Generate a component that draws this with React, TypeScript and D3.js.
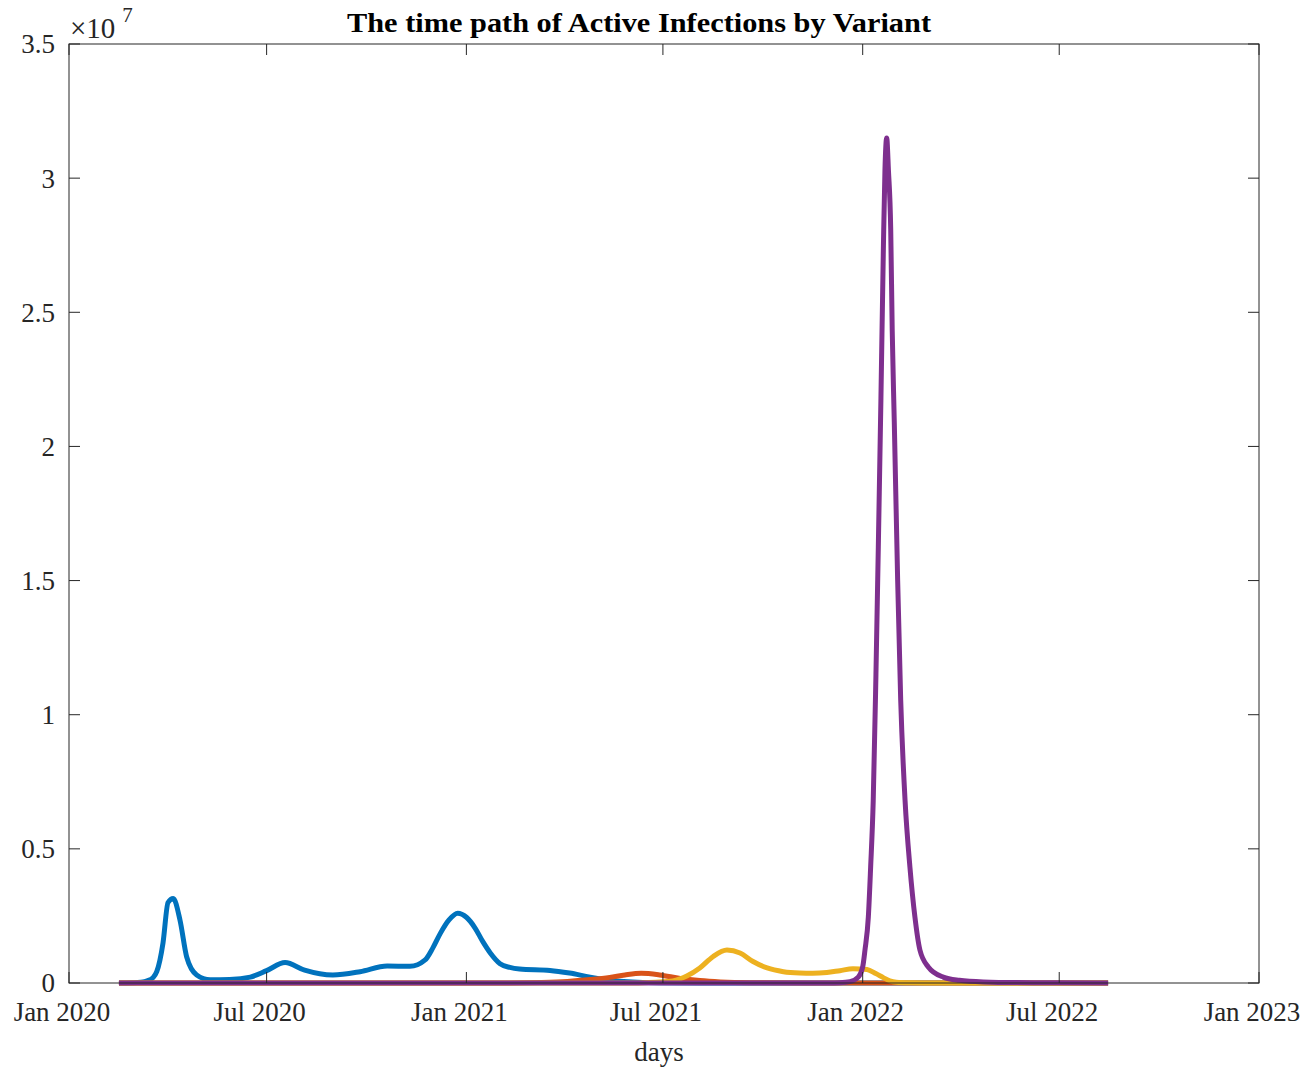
import React, { useEffect, useRef } from "react";
import * as d3 from "d3";

// days are counted from 1 Jan 2020, values are in millions
const variantNames = ["Original", "Alpha", "Delta", "Omicron"];
const variantColors = ["#0072BD", "#D95319", "#EDB120", "#7E2F8E"];

const originalDays = [46, 58, 66, 72, 77.4, 80.8, 86.6, 91.2, 96, 102.2, 108.4, 117.6, 130, 148, 167, 182, 199, 217, 243, 268, 293, 314, 328, 335, 342, 350, 358, 366, 374, 381, 388, 397, 406, 415, 443, 461, 480, 507, 544, 581, 957];
const originalVals = [0, 0.01, 0.03, 0.08, 0.2, 0.42, 1.5, 3.0, 3.15, 2.35, 0.97, 0.3, 0.12, 0.13, 0.22, 0.46, 0.76, 0.48, 0.3, 0.42, 0.63, 0.62, 0.86, 1.3, 1.85, 2.35, 2.6, 2.45, 2.05, 1.55, 1.12, 0.72, 0.58, 0.52, 0.47, 0.37, 0.22, 0.07, 0.01, 0, 0];

const alphaDays = [46, 400, 434, 459, 480, 498, 512, 527, 544, 563, 581, 600, 627, 680, 957];
const alphaVals = [0, 0, 0.02, 0.06, 0.13, 0.21, 0.3, 0.36, 0.3, 0.17, 0.09, 0.04, 0.01, 0, 0];

const deltaDays = [46, 520, 540, 556, 569, 581, 593, 606, 618, 630, 643, 658, 673, 685, 698, 710, 722, 735, 743, 750, 756, 762, 775, 800, 957];
const deltaVals = [0, 0, 0.03, 0.08, 0.26, 0.56, 0.98, 1.23, 1.12, 0.8, 0.56, 0.42, 0.37, 0.36, 0.39, 0.46, 0.53, 0.5, 0.35, 0.2, 0.08, 0.03, 0.01, 0, 0];

const omicronDays = [46, 700, 710, 719.3, 726.9, 731, 733.1, 736.2, 738.3, 740.7, 743.2, 745.5, 747.8, 750.1, 751.5, 753.1, 754.7, 756.8, 758.2, 760.1, 763.2, 766, 770, 774.5, 779.1, 783.7, 791.4, 805.2, 820, 842, 888, 957];
const omicronVals = [0, 0, 0.01, 0.05, 0.22, 0.6, 1.23, 2.46, 4.3, 6.8, 11.5, 16.5, 21.8, 27.5, 30.3, 31.5, 30.3, 28.1, 24.3, 20.9, 15.0, 10.55, 6.82, 4.32, 2.46, 1.23, 0.6, 0.22, 0.1, 0.04, 0.01, 0];

const seriesDays = [originalDays, alphaDays, deltaDays, omicronDays];
const seriesVals = [originalVals, alphaVals, deltaVals, omicronVals];

const xTickDates = ["2020-01-01", "2020-07-01", "2021-01-01", "2021-07-01", "2022-01-01", "2022-07-01", "2023-01-01"];
const yTicks = [0, 0.5, 1, 1.5, 2, 2.5, 3, 3.5];

const serif = "'Liberation Serif', 'Times New Roman', serif";

const Chart = () => {
  const ref = useRef<SVGSVGElement>(null);

  useEffect(() => {
    const svg = d3.select(ref.current);
    svg.selectAll("*").remove();

    const W = 1304;
    const H = 1068;
    const margin = { top: 44, right: 45, bottom: 85, left: 69 };
    const width = W - margin.left - margin.right;
    const height = H - margin.top - margin.bottom;

    const start = new Date(Date.UTC(2020, 0, 1));
    const x = d3
      .scaleUtc()
      .domain([start, new Date(Date.UTC(2023, 0, 1))])
      .range([0, width]);
    // y in units of 1e7
    const y = d3.scaleLinear().domain([0, 3.5]).range([height, 0]);

    const g = svg
      .append("g")
      .attr("transform", `translate(${margin.left}, ${margin.top})`);

    const line = d3
      .line<[number, number]>()
      .x((d) => x(start.getTime() + d[0] * 86400000))
      .y((d) => y(d[1] / 10))
      .curve(d3.curveMonotoneX);

    seriesDays.forEach((days, i) => {
      const pts = days.map((d, j) => [d, seriesVals[i][j]] as [number, number]);
      g.append("path")
        .datum(pts)
        .attr("class", variantNames[i])
        .attr("fill", "none")
        .attr("stroke", variantColors[i])
        .attr("stroke-width", 5)
        .attr("stroke-linejoin", "round")
        .attr("d", line);
    });

    const axisColor = "#262626";
    const tickDates = xTickDates.map((s) => new Date(s + "T00:00:00Z"));
    const fmt = d3.utcFormat("%b %Y");

    // box
    g.append("rect")
      .attr("x", 0)
      .attr("y", 0)
      .attr("width", width)
      .attr("height", height)
      .attr("fill", "none")
      .attr("stroke", axisColor)
      .attr("stroke-width", 1);

    // x ticks (inward, bottom and top)
    tickDates.forEach((d) => {
      const px = x(d);
      g.append("line")
        .attr("x1", px).attr("x2", px)
        .attr("y1", height).attr("y2", height - 11)
        .attr("stroke", axisColor);
      g.append("line")
        .attr("x1", px).attr("x2", px)
        .attr("y1", 0).attr("y2", 11)
        .attr("stroke", axisColor);
      g.append("text")
        .attr("x", px - 7)
        .attr("y", height + 38)
        .attr("text-anchor", "middle")
        .attr("font-family", serif)
        .attr("font-size", 27)
        .attr("fill", axisColor)
        .text(fmt(d));
    });

    // y ticks (inward, left and right)
    yTicks.forEach((v) => {
      const py = y(v);
      g.append("line")
        .attr("x1", 0).attr("x2", 11)
        .attr("y1", py).attr("y2", py)
        .attr("stroke", axisColor);
      g.append("line")
        .attr("x1", width).attr("x2", width - 11)
        .attr("y1", py).attr("y2", py)
        .attr("stroke", axisColor);
      g.append("text")
        .attr("x", -14)
        .attr("y", py)
        .attr("dy", "0.35em")
        .attr("text-anchor", "end")
        .attr("font-family", serif)
        .attr("font-size", 27)
        .attr("fill", axisColor)
        .text(String(v));
    });

    // exponent
    const ex = g.append("text")
      .attr("x", 1)
      .attr("y", -6)
      .attr("font-family", serif)
      .attr("font-size", 29)
      .attr("fill", axisColor);
    ex.append("tspan").text("\u00d710");
    ex.append("tspan").attr("dx", 7).attr("dy", -16).attr("font-size", 21).text("7");

    // x label
    g.append("text")
      .attr("x", width / 2 - 5)
      .attr("y", height + 78)
      .attr("text-anchor", "middle")
      .attr("font-family", serif)
      .attr("font-size", 27)
      .attr("fill", axisColor)
      .text("days");

    // title
    svg.append("text")
      .attr("x", 639)
      .attr("y", 32)
      .attr("text-anchor", "middle")
      .attr("font-family", serif)
      .attr("font-weight", "bold")
      .attr("font-size", 28)
      .attr("textLength", 584)
      .attr("lengthAdjust", "spacingAndGlyphs")
      .attr("fill", "#000")
      .text("The time path of Active Infections by Variant");
  }, []);

  return (
    <svg
      ref={ref}
      width={1304}
      height={1068}
      style={{ position: "absolute", left: 0, top: 0, background: "#fff" }}
    />
  );
};

export default function App() {
  return <Chart />;
}
